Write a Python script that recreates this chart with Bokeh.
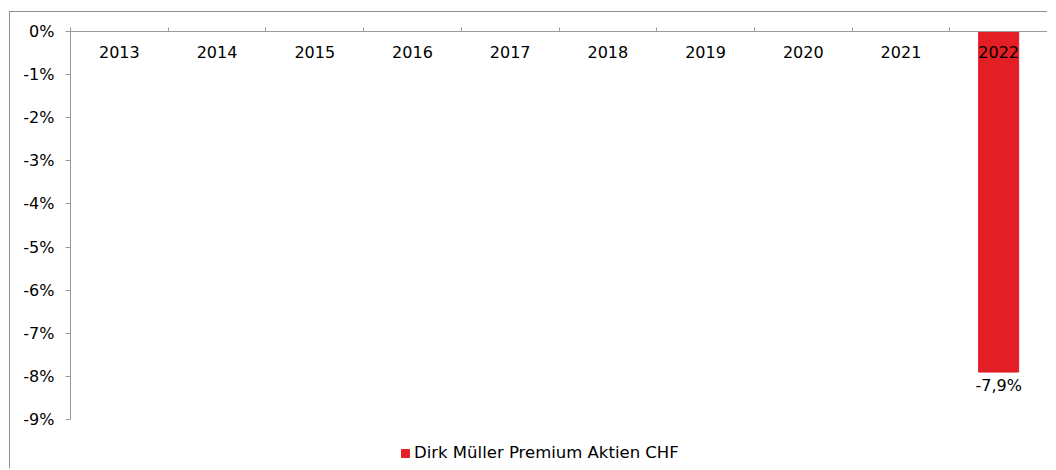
from bokeh.plotting import figure
from bokeh.layouts import column
from bokeh.models import (Range1d, FixedTicker, PrintfTickFormatter, Legend, LegendItem,
                          ColumnDataSource, LinearAxis)
from bokeh.core.properties import value
from bokeh.embed import file_html
from bokeh.resources import INLINE

years = ["2013", "2014", "2015", "2016", "2017", "2018", "2019", "2020", "2021", "2022"]
returns = [None, None, None, None, None, None, None, None, None, -7.9]
series_name = "Dirk Müller Premium Aktien CHF"
y_ticks = [0, -1, -2, -3, -4, -5, -6, -7, -8, -9]

FONT = "DejaVu Sans"
RED = "#E31E24"
GREY = "#9a9a9a"
BORDER = "#8f8f8f"

n = len(years)
xs = [i + 0.5 for i in range(n)]

p = figure(width=1038, height=417, output_backend="svg", toolbar_location=None,
           x_range=Range1d(0, n), y_range=Range1d(min(y_ticks), max(y_ticks)),
           min_border_left=60, min_border_right=1,
           min_border_top=19, min_border_bottom=10)
p.margin = (11, 0, 0, 9)
p.styles = {"border-left": f"1px solid {BORDER}", "border-top": f"1px solid {BORDER}"}
p.outline_line_color = None
p.xgrid.visible = False
p.ygrid.visible = False
p.xaxis.visible = False

# y axis
ya = p.yaxis[0]
ya.ticker = FixedTicker(ticks=y_ticks)
ya.formatter = PrintfTickFormatter(format="%d%%")
ya.axis_line_color = GREY
ya.major_tick_line_color = GREY
ya.major_tick_out = 5
ya.major_tick_in = 0
ya.minor_tick_line_color = None
ya.major_label_standoff = 11
ya.major_label_text_font = FONT
ya.major_label_text_font_size = "16px"
ya.major_label_text_color = "#000000"

# top category axis (ticks at category boundaries)
xa = LinearAxis(ticker=FixedTicker(ticks=list(range(n + 1))),
                major_label_overrides={i: "" for i in range(n + 1)})
xa.axis_line_color = GREY
xa.major_tick_line_color = GREY
xa.major_tick_out = 4
xa.major_tick_in = 0
xa.minor_tick_line_color = None
xa.major_label_standoff = 0
p.add_layout(xa, "above")

src = ColumnDataSource(dict(x=xs, top=[float("nan") if v is None else v for v in returns]))
bars = p.vbar(x="x", top="top", bottom=0, width=0.41, source=src,
              fill_color=RED, line_color=RED)

# category labels inside the plot, just below the top axis line
p.text(x=xs, y=[0] * n, text=years, text_font=value(FONT), text_font_size="16px",
       text_align="center", text_baseline="middle", y_offset=20, text_color="#000000")

# data labels
lx = [x for x, v in zip(xs, returns) if v is not None]
ly = [v for v in returns if v is not None]
lt = [f"{v:.1f}%".replace(".", ",") for v in ly]
p.text(x=lx, y=ly, text=lt, text_font=value(FONT), text_font_size="16px",
       text_align="center", text_baseline="top", y_offset=4, text_color="#000000")

# legend strip below the chart (key glyph lies outside the visible range)
q = figure(width=1038, height=40, output_backend="svg", toolbar_location=None,
           x_range=Range1d(0, 1), y_range=Range1d(0, 1),
           x_axis_location=None, y_axis_location=None, min_border=0)
q.margin = (0, 0, 0, 9)
q.styles = {"border-left": f"1px solid {BORDER}"}
q.outline_line_color = None
q.xgrid.visible = False
q.ygrid.visible = False
key = q.vbar(x=[-10], top=[-10], bottom=-11, width=1, fill_color=RED, line_color=RED)

legend = Legend(items=[LegendItem(label=series_name, renderers=[key])],
                orientation="horizontal", location=(330, 6))
legend.label_text_font = FONT
legend.label_text_font_size = "16.5px"
legend.label_text_color = "#000000"
legend.glyph_width = 10
legend.glyph_height = 10
legend.label_standoff = 4
legend.border_line_color = None
legend.background_fill_alpha = 0
legend.margin = 0
legend.padding = 4
q.add_layout(legend, "center")

layout = column(p, q, spacing=0)
open("out.html", "w").write(file_html(layout, INLINE))
